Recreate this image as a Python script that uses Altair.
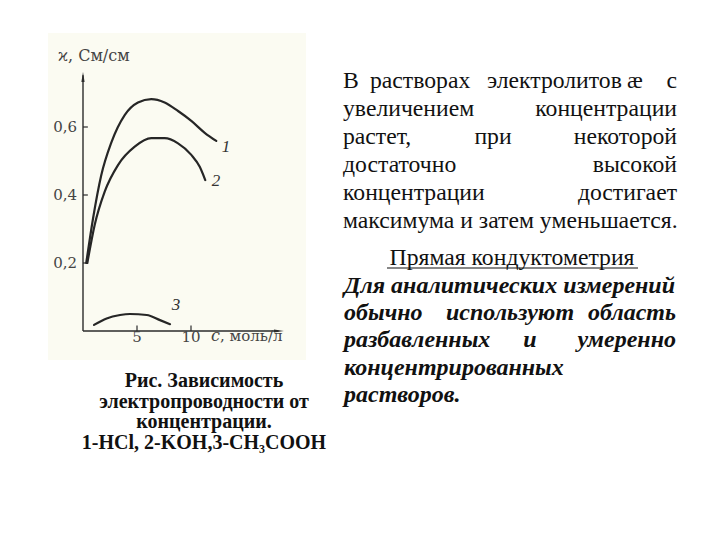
import altair as alt
import pandas as pd

# ---------------- data ----------------
c1 = [0.30, 0.93, 1.69, 2.62, 3.86, 5.09, 6.32, 7.56, 8.80, 10.03, 11.27, 12.34]
k1 = [0.200, 0.331, 0.458, 0.554, 0.635, 0.672, 0.682, 0.672, 0.647, 0.618, 0.583, 0.559]
c2 = [0.40, 1.08, 2.01, 3.24, 4.79, 6.32, 7.56, 8.80, 10.03, 10.81, 11.32]
k2 = [0.200, 0.312, 0.410, 0.488, 0.542, 0.567, 0.567, 0.552, 0.518, 0.483, 0.444]
c3 = [1.02, 2.19, 3.43, 4.35, 5.90, 7.13, 8.06]
k3 = [0.018, 0.037, 0.047, 0.050, 0.047, 0.032, 0.020]

curve_labels = ["1", "2", "3"]
label_c = [13.24, 12.31, 8.61]
label_k = [0.541, 0.441, 0.076]

x_ticks = [5, 10]
x_tick_labels = ["5", "10"]
y_ticks = [0.2, 0.4, 0.6]
y_tick_labels = ["0,2", "0,4", "0,6"]
x_end = 18.6
y_end = 0.762

y_title = "ϰ, См/см"
x_title_var = "c"
x_title_rest = ", моль/л"

line1_words = ["В", "растворах", "электролитов", "æ", "с"]
para1 = [
    ["увеличением", "концентрации"],
    ["растет,", "при", "некоторой"],
    ["достаточно", "высокой"],
    ["концентрации", "достигает"],
    ["максимума и затем уменьшается."],
]
heading = "Прямая кондуктометрия"
para2 = [
    ["Для аналитических измерений"],
    ["обычно", "используют", "область"],
    ["разбавленных", "и", "умеренно"],
    ["концентрированных"],
    ["растворов."],
]
caption = [
    "Рис. Зависимость",
    "электропроводности от",
    "концентрации.",
    "1-HCl, 2-KOH,3-CH₃COOH",
]

# ---------------- scales ----------------
OX, OY = 8, 8  # page margin
xs = alt.Scale(domain=[0, 20], range=[83 - OX, 83 - OX + 216], nice=False, zero=False)
ys = alt.Scale(domain=[0, 0.8], range=[331 - OY, 331 - OY - 272], nice=False, zero=False)

INK = "#2b2b2b"
SERIF = "Liberation Serif, Times New Roman, Tinos, serif"
FIG = "DejaVu Serif"

curves = pd.DataFrame({
    "c": c1 + c2 + c3,
    "k": k1 + k2 + k3,
    "s": ["1"] * len(c1) + ["2"] * len(c2) + ["3"] * len(c3),
})

layers = []

# cream background of the scanned figure
layers.append(
    alt.Chart(pd.DataFrame({"a": [0]})).mark_rect(color="#fbfbf2").encode(
        x=alt.value(48 - OX), x2=alt.value(306 - OX),
        y=alt.value(33 - OY), y2=alt.value(360 - OY))
)

# axes lines
layers.append(
    alt.Chart(pd.DataFrame({"c": [0], "k0": [0], "k1": [y_end - 0.01]})).mark_rule(
        color=INK, strokeWidth=1.4).encode(
        x=alt.X("c:Q", scale=xs, axis=None),
        y=alt.Y("k0:Q", scale=ys, axis=None), y2="k1:Q")
)
layers.append(
    alt.Chart(pd.DataFrame({"c0": [0], "c1": [x_end - 0.5], "k": [0]})).mark_rule(
        color=INK, strokeWidth=1.4).encode(
        x=alt.X("c0:Q", scale=xs, axis=None), x2="c1:Q",
        y=alt.Y("k:Q", scale=ys, axis=None))
)
# arrow heads
layers.append(
    alt.Chart(pd.DataFrame({"c": [0], "k": [y_end - 0.0147]})).mark_point(
        shape="M0,-1L0.32,1L-0.32,1Z", filled=True, size=100, color=INK, opacity=1).encode(
        x=alt.X("c:Q", scale=xs, axis=None), y=alt.Y("k:Q", scale=ys, axis=None))
)
layers.append(
    alt.Chart(pd.DataFrame({"c": [x_end - 0.46], "k": [0]})).mark_point(
        shape="M1,0L-1,0.3L-1,-0.3Z", filled=True, size=100, color=INK, opacity=1).encode(
        x=alt.X("c:Q", scale=xs, axis=None), y=alt.Y("k:Q", scale=ys, axis=None))
)

# ticks
layers.append(
    alt.Chart(pd.DataFrame({"c": x_ticks, "k0": [0] * 2, "k1": [0.016] * 2})).mark_rule(
        color=INK, strokeWidth=1.2).encode(
        x=alt.X("c:Q", scale=xs, axis=None),
        y=alt.Y("k0:Q", scale=ys, axis=None), y2="k1:Q")
)
layers.append(
    alt.Chart(pd.DataFrame({"c0": [0] * 3, "c1": [0.45] * 3, "k": y_ticks})).mark_rule(
        color=INK, strokeWidth=1.2).encode(
        x=alt.X("c0:Q", scale=xs, axis=None), x2="c1:Q",
        y=alt.Y("k:Q", scale=ys, axis=None))
)

# tick labels
layers.append(
    alt.Chart(pd.DataFrame({"c": x_ticks, "k": [0] * 2, "t": x_tick_labels})).mark_text(
        font=FIG, fontSize=15, color="#444", baseline="alphabetic", dy=11).encode(
        x=alt.X("c:Q", scale=xs, axis=None), y=alt.Y("k:Q", scale=ys, axis=None), text="t:N")
)
layers.append(
    alt.Chart(pd.DataFrame({"c": [0] * 3, "k": y_ticks, "t": y_tick_labels})).mark_text(
        font=FIG, fontSize=15, color="#444", baseline="middle", align="right", dx=-6).encode(
        x=alt.X("c:Q", scale=xs, axis=None), y=alt.Y("k:Q", scale=ys, axis=None), text="t:N")
)

# curves
layers.append(
    alt.Chart(curves).mark_line(color="#262626", strokeWidth=2.2, interpolate="monotone",
                                strokeCap="round").encode(
        x=alt.X("c:Q", scale=xs, axis=None), y=alt.Y("k:Q", scale=ys, axis=None),
        detail="s:N", order=alt.Order("c:Q"))
)
layers.append(
    alt.Chart(pd.DataFrame({"c": label_c, "k": label_k, "t": curve_labels})).mark_text(
        font=SERIF, fontStyle="italic", fontSize=17, color="#333", baseline="middle").encode(
        x=alt.X("c:Q", scale=xs, axis=None), y=alt.Y("k:Q", scale=ys, axis=None), text="t:N")
)


def txt(s, x, y, size, align="left", weight="normal", style="normal",
        font=SERIF, color="#111"):
    return alt.Chart(pd.DataFrame({"t": [s]})).mark_text(
        align=align, baseline="alphabetic", fontSize=size, font=font,
        fontWeight=weight, fontStyle=style, color=color).encode(
        x=alt.value(x - OX), y=alt.value(y - OY), text="t:N")


# axis titles
layers.append(txt(y_title, 58, 61, 16, font=FIG, color="#444"))
layers.append(txt(x_title_var, 211, 341, 16, style="italic", font=FIG, color="#444"))
layers.append(txt(x_title_rest, 220, 341, 15, font=FIG, color="#444"))


def justified(lines, left, right, base, step, mids, size, weight="normal", style="normal"):
    out = []
    for i, words in enumerate(lines):
        y = base + i * step
        if len(words) == 1:
            out.append(txt(words[0], left, y, size, "left", weight, style))
        elif len(words) == 2:
            out.append(txt(words[0], left, y, size, "left", weight, style))
            out.append(txt(words[1], right, y, size, "right", weight, style))
        else:
            out.append(txt(words[0], left, y, size, "left", weight, style))
            out.append(txt(words[1], mids[i], y, size, "center", weight, style))
            out.append(txt(words[2], right, y, size, "right", weight, style))
    return out


# first justified line: word starts
for w, xw in zip(line1_words[:-1], [343, 370, 487, 627]):
    layers.append(txt(w, xw, 88, 23.7))
layers.append(txt(line1_words[-1], 677, 88, 23.7, "right"))

layers += justified(para1, 343, 677, 116, 28, {1: 493}, 23.7)
layers.append(txt(heading, 512, 265, 23.7, "center"))
layers.append(
    alt.Chart(pd.DataFrame({"a": [0]})).mark_rule(color="#111", strokeWidth=1.2).encode(
        x=alt.value(387 - OX), x2=alt.value(638 - OX), y=alt.value(268 - OY))
)
layers += justified(para2, 344, 676, 293, 27.2, {1: 510, 2: 530}, 24,
                    weight="bold", style="italic")

for i, line in enumerate(caption):
    layers.append(txt(line, 204, 387 + i * 20.5, 20, "center", weight="bold"))

chart = alt.layer(*layers).properties(
    width=704, height=524, padding=0,
    autosize=alt.AutoSizeParams(type="none"),
    background="white",
).configure_view(stroke=None)

chart.save("out.html", embed_options={"renderer": "svg", "actions": False})
